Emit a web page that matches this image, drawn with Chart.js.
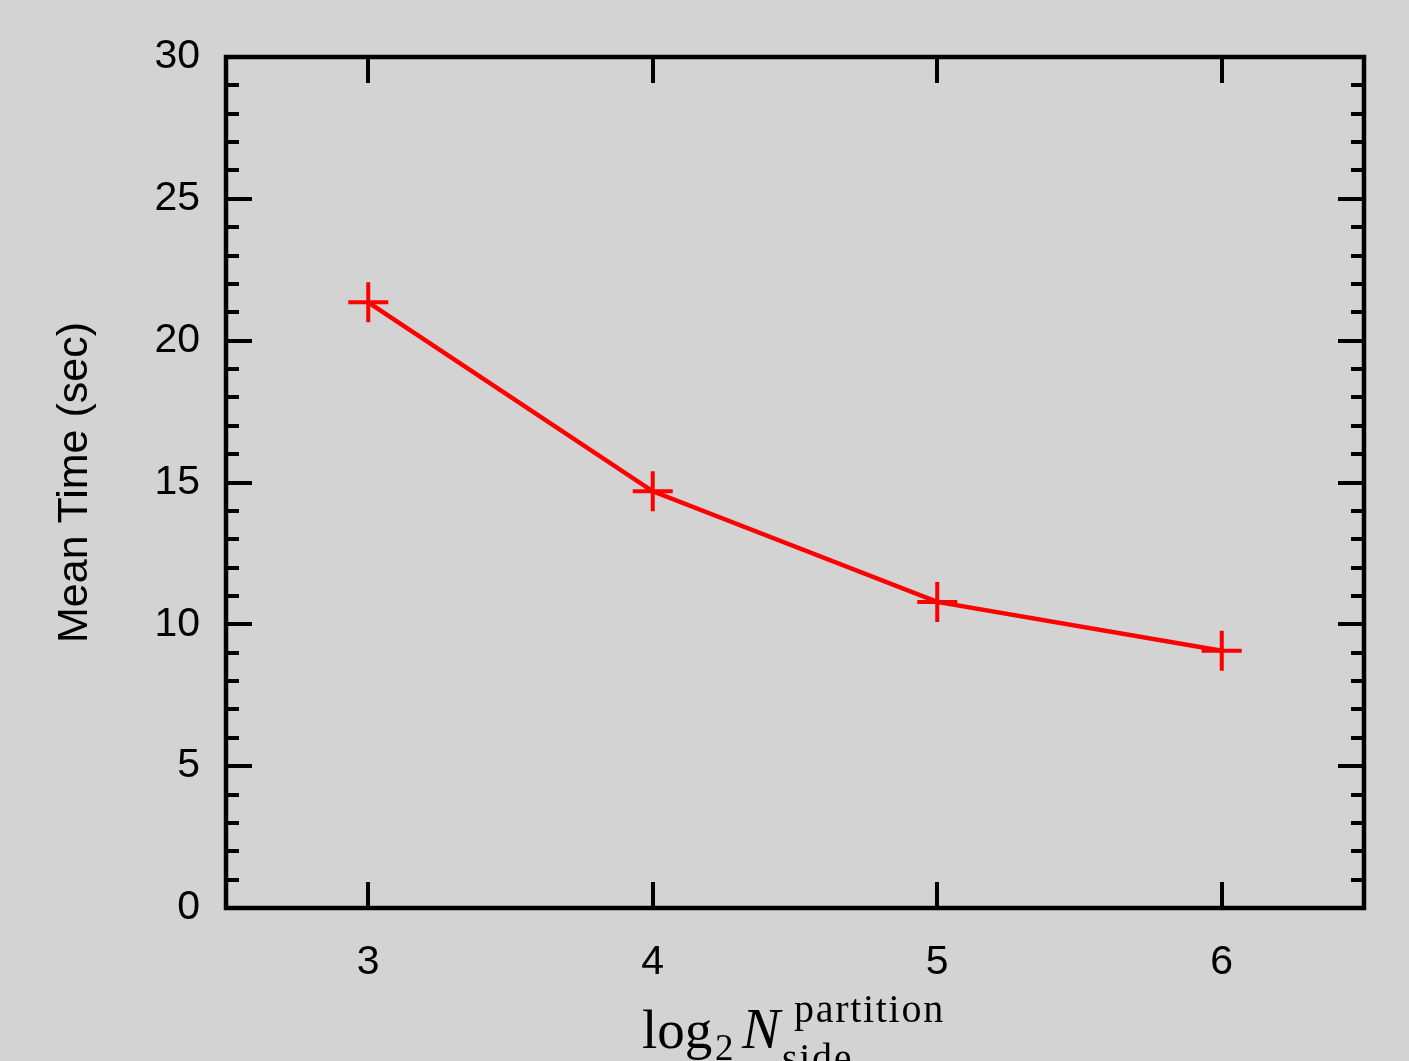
<!DOCTYPE html>
<html>
<head>
<meta charset="utf-8">
<title>Mean Time vs log2 N partition side</title>
<script src="https://cdn.jsdelivr.net/npm/chart.js@4.4.1/dist/chart.umd.min.js"></script>
<style>
  html, body { margin:0; padding:0; background:#d3d3d3; }
  #wrap { position:relative; width:1409px; height:1061px; }
</style>
</head>
<body>
<div id="wrap"><canvas id="chartTime" width="1409" height="1061"></canvas></div>
<script>
/* -------- data -------- */
const X_VALS   = [3, 4, 5, 6];
const MEAN_SEC = [21.35, 14.69, 10.79, 9.07];
const X_TICKS  = [3, 4, 5, 6];
const Y_TICKS  = [0, 5, 10, 15, 20, 25, 30];
const X_RANGE  = [2.5, 6.5];
const Y_RANGE  = [0, 30];
const Y_MINOR  = 1;      // minor tick step on y

const RED    = '#ff0000';
const INK    = '#000000';
const sans   = '"Liberation Sans", Arial, sans-serif';
const serif  = '"Liberation Serif", "Times New Roman", serif';
const tickFont = { family:sans, size:41 };

const $ = id => document.getElementById(id);

/* -------- gnuplot-like frame: box, inward ticks, math x-title -------- */
const framePlugin = {
  id:'frame',
  afterDraw(chart) {
    const ctx = chart.ctx;
    const { left, right, top, bottom } = chart.chartArea;
    const sx = chart.scales.x, sy = chart.scales.y;
    ctx.save();
    ctx.strokeStyle = INK;
    ctx.lineCap = 'butt';

    // y ticks, both sides
    ctx.lineWidth = 4;
    ctx.beginPath();
    for (let v = Y_RANGE[0]; v <= Y_RANGE[1]; v += Y_MINOR) {
      const y = Math.round(sy.getPixelForValue(v));
      const len = Y_TICKS.includes(v) ? 26 : 13;
      ctx.moveTo(left, y);  ctx.lineTo(left + len, y);
      ctx.moveTo(right, y); ctx.lineTo(right - len, y);
    }
    // x ticks, bottom and top
    X_TICKS.forEach(v => {
      const x = Math.round(sx.getPixelForValue(v));
      ctx.moveTo(x, bottom); ctx.lineTo(x, bottom - 26);
      ctx.moveTo(x, top);    ctx.lineTo(x, top + 26);
    });
    ctx.stroke();

    // border box
    ctx.lineWidth = 4.5;
    ctx.strokeRect(left, top, right - left, bottom - top);

    // x title: log_2 N^{partition}_{side}
    const cx = (left + right) / 2;
    ctx.fillStyle = INK;
    ctx.textBaseline = 'alphabetic';
    ctx.textAlign = 'left';
    const put = (txt, dx, y, font, spacing) => {
      ctx.font = font;
      ctx.letterSpacing = spacing || '0px';
      ctx.fillText(txt, cx + dx, y);
    };
    put('log', -153, 1048, `55px ${serif}`);
    put('2', -80, 1060, `37px ${serif}`);
    put('N', -53, 1048, `italic 57px ${serif}`);
    put('partition', -1, 1022, `40px ${serif}`, '1.7px');
    put('side', -13, 1071, `40px ${serif}`, '1.7px');
    ctx.restore();
  }
};

/* -------- chart -------- */
new Chart($('chartTime'), {
  type:'line',
  data:{ datasets:[{
    label:'Mean Time',
    data: X_VALS.map((x, i) => ({ x, y:MEAN_SEC[i] })),
    borderColor:RED, borderWidth:4.5, tension:0, fill:false,
    pointStyle:'cross', pointRadius:20, pointHoverRadius:20,
    pointBorderColor:RED, pointBorderWidth:4, clip:false,
  }]},
  options:{
    responsive:false, animation:false, devicePixelRatio:1,
    layout:{ padding:{ left:0, top:57, right:45, bottom:0 } },
    plugins:{ legend:{ display:false }, tooltip:{ enabled:false } },
    scales:{
      x:{ type:'linear', min:X_RANGE[0], max:X_RANGE[1],
          afterBuildTicks: s => { s.ticks = X_TICKS.map(v => ({ value:v })); },
          afterFit: s => { s.height = 153; },
          grid:{ display:false, drawTicks:false }, border:{ display:false },
          ticks:{ color:INK, font:tickFont, padding:30, maxRotation:0 } },
      y:{ type:'linear', min:Y_RANGE[0], max:Y_RANGE[1],
          afterBuildTicks: s => { s.ticks = Y_TICKS.map(v => ({ value:v })); },
          afterFit: s => { s.width = 226; },
          grid:{ display:false, drawTicks:false }, border:{ display:false },
          ticks:{ color:INK, font:tickFont, padding:26 },
          title:{ display:true, text:'Mean Time (sec)', color:INK,
                  font:{ family:sans, size:43, lineHeight:1.2 }, padding:{ top:49, bottom:0 } } },
    },
  },
  plugins:[framePlugin],
});
</script>
</body>
</html>
